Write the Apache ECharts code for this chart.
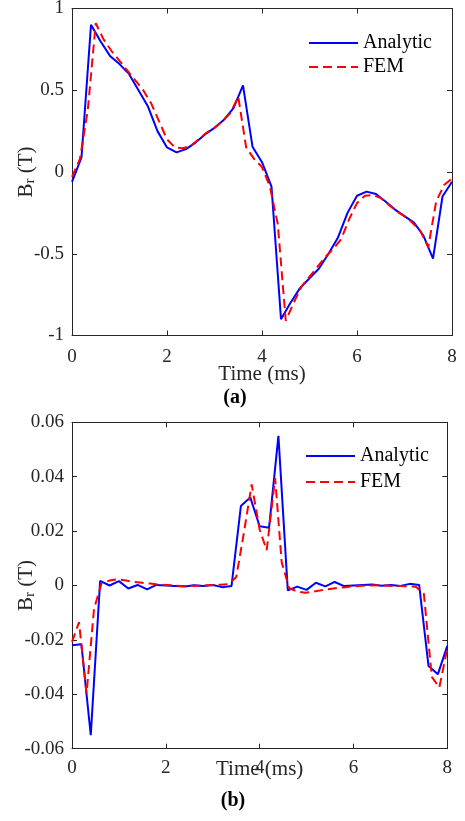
<!DOCTYPE html>
<html><head><meta charset="utf-8">
<script src="https://cdn.jsdelivr.net/npm/echarts@6/dist/echarts.min.js"></script>
<style>html,body{margin:0;padding:0;background:#fff}#c{width:465px;height:821px}</style>
</head><body><div id="c"></div>
<script>
// ---- data ----
const timeAnalytic = [0,0.2,0.4,0.6,0.8,1.0,1.2,1.4,1.6,1.8,2.0,2.2,2.4,2.6,2.8,3.0,3.2,3.4,3.6,3.8,4.0,4.2,4.4,4.6,4.8,5.0,5.2,5.4,5.6,5.8,6.0,6.2,6.4,6.6,6.8,7.0,7.2,7.4,7.6,7.8,8.0];
const analyticA = [-0.06,0.09,0.90,0.80,0.71,0.66,0.60,0.50,0.40,0.25,0.15,0.12,0.14,0.18,0.23,0.27,0.32,0.39,0.53,0.155,0.06,-0.09,-0.90,-0.80,-0.71,-0.65,-0.59,-0.50,-0.40,-0.25,-0.145,-0.12,-0.135,-0.18,-0.23,-0.27,-0.31,-0.39,-0.53,-0.15,-0.06];
const timeFemA = [0,0.167,0.333,0.5,0.667,0.833,1,1.167,1.333,1.5,1.667,1.833,2,2.167,2.333,2.5,2.667,2.833,3,3.167,3.333,3.5,3.667,3.833,4,4.167,4.333,4.5,4.667,4.833,5,5.167,5.333,5.5,5.667,5.833,6,6.167,6.333,6.5,6.667,6.833,7,7.167,7.333,7.5,7.667,7.833,8];
const femA = [-0.03,0.08,0.38,0.91,0.81,0.74,0.68,0.62,0.56,0.50,0.42,0.31,0.20,0.15,0.145,0.16,0.20,0.24,0.27,0.31,0.36,0.46,0.15,0.08,0.03,-0.09,-0.32,-0.91,-0.80,-0.70,-0.64,-0.58,-0.52,-0.47,-0.41,-0.29,-0.19,-0.145,-0.14,-0.16,-0.20,-0.24,-0.27,-0.31,-0.36,-0.46,-0.18,-0.08,-0.04];
const analyticB = [-0.0220,-0.0216,-0.0550,0.0017,0.0000,0.0016,-0.0011,0.0002,-0.0014,0.0002,0.0000,-0.0002,-0.0004,0.0001,-0.0002,0.0002,-0.0006,-0.0002,0.0292,0.0324,0.0218,0.0212,0.0550,-0.0018,-0.0004,-0.0016,0.0010,-0.0003,0.0013,-0.0002,0.0000,0.0002,0.0004,-0.0001,0.0002,-0.0002,0.0006,0.0002,-0.0296,-0.0326,-0.0222];
const timeFemB = [0,0.15,0.31,0.47,0.63,0.8,0.97,1.15,1.33,1.5,1.67,1.83,2.0,2.17,2.33,2.5,2.67,2.83,3.0,3.17,3.33,3.5,3.67,3.83,4.0,4.15,4.33,4.47,4.63,4.8,4.97,5.15,5.33,5.5,5.67,5.83,6.0,6.17,6.33,6.5,6.67,6.83,7.0,7.17,7.33,7.5,7.67,7.83,8.0];
const femB = [-0.0207,-0.0135,-0.0397,-0.0085,0.0008,0.0018,0.0023,0.0018,0.0013,0.0010,0.0007,0.0004,0.0002,0.0000,-0.0002,-0.0002,-0.0001,0.0000,0.0002,0.0003,0.0005,0.0030,0.0200,0.0372,0.0205,0.0130,0.0395,0.0085,-0.0010,-0.0022,-0.0027,-0.0022,-0.0017,-0.0013,-0.0009,-0.0006,-0.0003,-0.0001,0.0000,0.0001,0.0000,-0.0002,-0.0002,-0.0003,-0.0005,-0.0030,-0.0336,-0.0375,-0.0232];
const xTicks = {min:0, max:8, interval:2};
const yTicksA = {min:-1, max:1, interval:0.5};
const yTicksB = {min:-0.06, max:0.06, interval:0.02};
const seriesNames = ['Analytic','FEM'];
const panelLabels = ['(a)','(b)'];
const xName = 'Time (ms)';
const yName = '{a|B}{s|r}{a| (T)}';

// ---- styling ----
const FONT = '"Liberation Serif", "Times New Roman", serif';
const AX = '#262626';
const zip = (t, v) => t.map((x, i) => [x, v[i]]);

function xAx(grid, top, nameGap, labelMargin) {
  return {
    gridIndex: grid, type: 'value', position: top ? 'top' : 'bottom',
    min: xTicks.min, max: xTicks.max, interval: xTicks.interval,
    axisLine: {onZero: false, lineStyle: {color: AX, width: 1}},
    axisTick: {inside: true, length: 5, lineStyle: {color: AX, width: 1}},
    axisLabel: {show: !top, fontFamily: FONT, fontSize: 19, color: AX, margin: labelMargin},
    splitLine: {show: false},
    name: top ? '' : xName, nameLocation: 'middle', nameGap: nameGap, nameMoveOverlap: false,
    nameTextStyle: {fontFamily: FONT, fontSize: 21, color: AX}
  };
}
function yAx(grid, right, ticks) {
  return {
    gridIndex: grid, type: 'value', position: right ? 'right' : 'left',
    min: ticks.min, max: ticks.max, interval: ticks.interval,
    axisLine: {show: true, onZero: false, lineStyle: {color: AX, width: 1}},
    axisTick: {show: true, inside: true, length: 5, lineStyle: {color: AX, width: 1}},
    axisLabel: {show: !right, fontFamily: FONT, fontSize: 19, color: AX, margin: 8},
    splitLine: {show: false},
    name: right ? '' : yName, nameLocation: 'middle', nameGap: right ? 0 : 34, nameRotate: 90,
    nameMoveOverlap: false,
    nameTextStyle: {fontFamily: FONT, fontSize: 21, color: AX,
      rich: {
        a: {fontFamily: FONT, fontSize: 21, color: AX, lineHeight: 24, verticalAlign: 'middle'},
        s: {fontFamily: FONT, fontSize: 15, color: AX, lineHeight: 15, verticalAlign: 'bottom'}
      }}
  };
}
function line(name, xi, yi, data, color, dashed) {
  return {
    name: name, type: 'line', xAxisIndex: xi, yAxisIndex: yi, data: data,
    symbol: 'none', showSymbol: false, smooth: false,
    lineStyle: {color: color, width: 2, type: dashed ? [9, 5] : 'solid'},
    itemStyle: {color: color}, z: dashed ? 3 : 2
  };
}
function legend(left, top, gap) {
  return {data: seriesNames, orient: 'vertical', left: left, top: top, itemWidth: 49, itemHeight: 14, itemGap: gap,
    itemStyle: {opacity: 0}, textStyle: {fontFamily: FONT, fontSize: 20, color: '#000', lineHeight: 20},
    selectedMode: false};
}

const chart = echarts.init(document.getElementById('c'), null, {renderer: 'canvas'});
chart.setOption({
  animation: false,
  backgroundColor: '#fff',
  grid: [
    {left: 72, top: 8.5, width: 380, height: 327, containLabel: false, outerBoundsMode: 'none'},
    {left: 72, top: 422.3, width: 375.3, height: 326.4, containLabel: false, outerBoundsMode: 'none'}
  ],
  xAxis: [xAx(0, false, 28, 12), xAx(0, true, 0, 8), xAx(1, false, 10, 10), xAx(1, true, 0, 8)],
  yAxis: [yAx(0, false, yTicksA), yAx(0, true, yTicksA), yAx(1, false, yTicksB), yAx(1, true, yTicksB)],
  legend: [legend(303, 28, 4), legend(300, 441, 6)],
  graphic: [
    {type: 'text', x: 235, y: 398, style: {text: panelLabels[0], align: 'center', verticalAlign: 'middle', font: 'bold 20px ' + FONT, fill: '#000'}},
    {type: 'text', x: 233, y: 801, style: {text: panelLabels[1], align: 'center', verticalAlign: 'middle', font: 'bold 20px ' + FONT, fill: '#000'}}
  ],
  series: [
    line(seriesNames[0], 0, 0, zip(timeAnalytic, analyticA), '#0000FF', false),
    line(seriesNames[1], 0, 0, zip(timeFemA, femA), '#FF0000', true),
    line(seriesNames[0], 2, 2, zip(timeAnalytic, analyticB), '#0000FF', false),
    line(seriesNames[1], 2, 2, zip(timeFemB, femB), '#FF0000', true)
  ]
});
</script>
</body></html>
